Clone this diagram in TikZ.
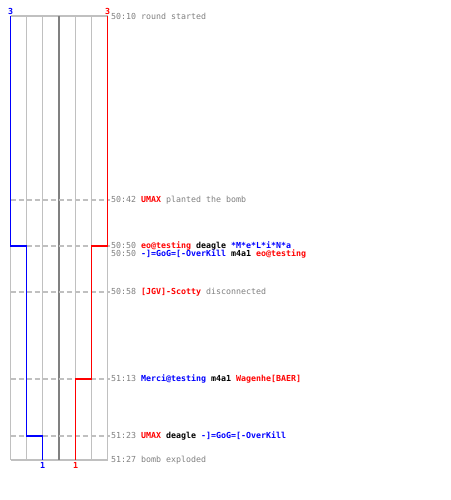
\documentclass[tikz,border=0pt]{standalone}
\usepackage{fontspec}
\setmonofont{DejaVu Sans Mono}
\definecolor{gridgray}{RGB}{192,192,192}
\definecolor{axisgray}{RGB}{128,128,128}
\definecolor{tred}{RGB}{255,0,0}
\definecolor{tblue}{RGB}{0,0,255}
\newcommand{\redname}[1]{\textcolor{tred}{\textbf{#1}}}
\newcommand{\bluename}[1]{\textcolor{tblue}{\textbf{#1}}}
\newcommand{\weapon}[1]{\textcolor{black}{\textbf{#1}}}
\tikzset{
  gridline/.style={gridgray, line width=1.2pt},
  eventline/.style={gridgray, line width=1.2pt, dash pattern=on 5pt off 3pt},
  blueteam/.style={tblue, line width=1.4pt},
  redteam/.style={tred, line width=1.4pt},
  logtext/.style={anchor=west, inner sep=0pt, text=axisgray,
    font=\ttfamily\fontsize{8.3}{9}\selectfont},
  count/.style={inner sep=0pt, font=\ttfamily\bfseries\fontsize{8.3}{9}\selectfont},
}
\begin{document}
\begin{tikzpicture}[x=1pt, y=-1pt]
  \useasboundingbox[fill=white] (0,0) rectangle (450,500);
  % Time axis lines
  \draw[gridline] (10.5,16) -- (107.5,16);
  \draw[gridline] (10.5,460) -- (107.5,460);
  \draw[gridline] (10.5,16) -- (10.5,460);
  \draw[gridline] (26.5,16) -- (26.5,460);
  \draw[gridline] (42.5,16) -- (42.5,460);
  \draw[gridline] (75.5,16) -- (75.5,460);
  \draw[gridline] (91.5,16) -- (91.5,460);
  \draw[gridline] (107.5,16) -- (107.5,460);
  \draw[axisgray, line width=2pt] (59,16) -- (59,460);
  % Events
  \draw[eventline] (10.5,200) -- (110,200);
  \draw[eventline] (10.5,246) -- (110,246);
  \draw[eventline] (10.5,292) -- (110,292);
  \draw[eventline] (10.5,379) -- (110,379);
  \draw[eventline] (10.5,436) -- (110,436);
  % Team counts
  \coordinate (b3) at (10.5,16);
  \coordinate (b2) at (26.5,246);
  \coordinate (b1) at (42.5,436);
  \coordinate (bend) at (42.5,460);
  \coordinate (r3) at (107.5,16);
  \coordinate (r2) at (91.5,246);
  \coordinate (r1) at (75.5,379);
  \coordinate (rend) at (75.5,460);
  \draw[blueteam] (b3) |- (b2) |- (b1) -- (bend);
  \draw[redteam] (r3) |- (r2) |- (r1) -- (rend);
  \node[count, text=tblue] (nb3) at (10.5,11) {3};
  \node[count, text=tred] (nr3) at (107.5,11) {3};
  \node[count, text=tblue] (nb1) at (42.5,465) {1};
  \node[count, text=tred] (nr1) at (75.5,465) {1};
  % Log lines
  \node[logtext] (e1) at (111,16) {50:10 round started};
  \node[logtext] (e2) at (111,200) {50:42 \redname{UMAX} planted the bomb};
  \node[logtext] (e3) at (111,246) {50:50 \redname{eo@testing} \weapon{deagle} \bluename{*M*e*L*i*N*a}};
  \node[logtext] (e4) at (111,254) {50:50 \bluename{-]=GoG=[-OverKill} \weapon{m4a1} \redname{eo@testing}};
  \node[logtext] (e5) at (111,292) {50:58 \redname{[JGV]-Scotty} disconnected};
  \node[logtext] (e6) at (111,379) {51:13 \bluename{Merci@testing} \weapon{m4a1} \redname{Wagenhe[BAER]}};
  \node[logtext] (e7) at (111,436) {51:23 \redname{UMAX} \weapon{deagle} \bluename{-]=GoG=[-OverKill}};
  \node[logtext] (e8) at (111,460) {51:27 bomb exploded};
\end{tikzpicture}
\end{document}
